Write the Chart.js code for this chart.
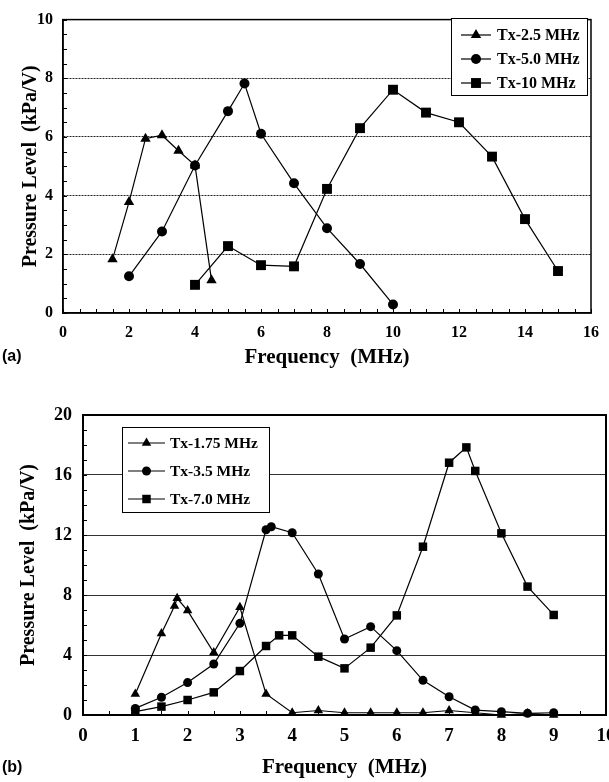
<!DOCTYPE html>
<html><head><meta charset="utf-8">
<script src="https://cdn.jsdelivr.net/npm/chart.js@4.4.0/dist/chart.umd.min.js"></script>
<style>
html,body{margin:0;padding:0;background:#fff;overflow:hidden;width:609px;height:782px;position:relative;}
#ca{position:absolute;left:0;top:0;}
#cb{position:absolute;left:0;top:385px;}
</style></head><body>
<canvas id="ca" width="609" height="380"></canvas>
<canvas id="cb" width="630" height="397"></canvas>
<script>
// ---------- Data: panel (a) ----------
const a_labels = ['Tx-2.5 MHz', 'Tx-5.0 MHz', 'Tx-10 MHz'];
const a_x25 = [1.5, 2, 2.5, 3, 3.5, 4, 4.5];
const a_y25 = [1.83, 3.78, 5.94, 6.06, 5.53, 5.03, 1.12];
const a_x50 = [2, 3, 4, 5, 5.5, 6, 7, 8, 9, 10];
const a_y50 = [1.25, 2.78, 5.03, 6.88, 7.82, 6.11, 4.42, 2.89, 1.67, 0.29];
const a_x10 = [4, 5, 6, 7, 8, 9, 10, 11, 12, 13, 14, 15];
const a_y10 = [0.96, 2.28, 1.63, 1.59, 4.23, 6.30, 7.61, 6.83, 6.50, 5.33, 3.20, 1.43];
const a_xTicks = [0, 2, 4, 6, 8, 10, 12, 14, 16];
const a_yTicks = [0, 2, 4, 6, 8, 10];

// ---------- Data: panel (b) ----------
const b_labels = ['Tx-1.75 MHz', 'Tx-3.5 MHz', 'Tx-7.0 MHz'];
const b_x175 = [1, 1.5, 1.75, 1.8, 2, 2.5, 3, 3.5, 4, 4.5, 5, 5.5, 6, 6.5, 7, 7.5, 8, 8.5, 9];
const b_y175 = [1.4, 5.44, 7.27, 7.78, 6.96, 4.16, 7.18, 1.4, 0.15, 0.3, 0.15, 0.15, 0.15, 0.15, 0.3, 0.15, 0, 0.1, 0];
const b_x35 = [1, 1.5, 2, 2.5, 3, 3.5, 3.6, 4, 4.5, 5, 5.5, 6, 6.5, 7, 7.5, 8, 8.5, 9];
const b_y35 = [0.44, 1.18, 2.16, 3.4, 6.11, 12.35, 12.55, 12.15, 9.4, 5.07, 5.89, 4.29, 2.31, 1.22, 0.33, 0.22, 0.11, 0.15];
const b_x70 = [1, 1.5, 2, 2.5, 3, 3.5, 3.75, 4, 4.5, 5, 5.5, 6, 6.5, 7, 7.33, 7.5, 8, 8.5, 9];
const b_y70 = [0.22, 0.56, 1.0, 1.51, 2.93, 4.6, 5.31, 5.31, 3.89, 3.11, 4.49, 6.64, 11.22, 16.82, 17.84, 16.27, 12.11, 8.56, 6.67];
const b_xTicks = [0, 1, 2, 3, 4, 5, 6, 7, 8, 9, 10];
const b_yTicks = [0, 4, 8, 12, 16, 20];

const SERIF = "'Liberation Serif','Times New Roman',serif";
const SANS = "'Liberation Sans',Arial,sans-serif";

function pts(xs, ys) { return xs.map((x, i) => ({ x: x, y: ys[i] })); }
function ds(label, xs, ys, style, r) {
  return {
    label: label, data: pts(xs, ys), borderColor: '#000', backgroundColor: '#000',
    borderWidth: 1.2, pointStyle: style, pointRadius: r, pointHoverRadius: r,
    pointBackgroundColor: '#000', pointBorderColor: '#000', pointBorderWidth: 0,
    tension: 0, fill: false, clip: false
  };
}

function drawMarker(ctx, style, r, x, y) {
  if (Chart.helpers && Chart.helpers.drawPoint) {
    Chart.helpers.drawPoint(ctx, { pointStyle: style, radius: r, rotation: 0, borderWidth: 0 }, x, y);
    return;
  }
  ctx.beginPath();
  if (style === 'circle') ctx.arc(x, y, r, 0, Math.PI * 2);
  else if (style === 'rect') { const s = r * Math.SQRT1_2; ctx.rect(x - s, y - s, 2 * s, 2 * s); }
  else { ctx.moveTo(x, y - r); ctx.lineTo(x + r * 0.866, y + r / 2); ctx.lineTo(x - r * 0.866, y + r / 2); ctx.closePath(); }
  ctx.fill();
}

const decor = {
  id: 'decor',
  beforeDatasetsDraw(chart, args, o) {
    const ctx = chart.ctx, ca = chart.chartArea;
    const xs = chart.scales.x, ys = chart.scales.y;
    ctx.save();
    ctx.strokeStyle = '#000';
    ctx.lineWidth = 1;
    ctx.beginPath();
    for (let v = xs.min; v <= xs.max + 1e-9; v += o.xMinor) {
      const p = Math.round(xs.getPixelForValue(v)) + 0.5;
      ctx.moveTo(p, ca.bottom); ctx.lineTo(p, ca.bottom - o.tickLen);
    }
    for (let v = ys.min; v <= ys.max + 1e-9; v += o.yMinor) {
      const p = Math.round(ys.getPixelForValue(v)) + 0.5;
      ctx.moveTo(ca.left, p); ctx.lineTo(ca.left + o.tickLen, p);
    }
    ctx.stroke();
    ctx.lineWidth = o.frameWidth;
    ctx.strokeRect(ca.left, ca.top, ca.right - ca.left, ca.bottom - ca.top);
    ctx.restore();
  },
  afterDatasetsDraw(chart, args, o) {
    const ctx = chart.ctx;
    const L = o.legend;
    ctx.save();
    ctx.fillStyle = '#fff';
    ctx.fillRect(L.x, L.y, L.w, L.h);
    ctx.strokeStyle = '#000';
    ctx.lineWidth = 1;
    ctx.strokeRect(L.x + 0.5, L.y + 0.5, L.w, L.h);
    ctx.font = 'bold ' + L.fontSize + 'px ' + SERIF;
    ctx.textBaseline = 'middle';
    ctx.textAlign = 'left';
    chart.data.datasets.forEach((d, i) => {
      const y = L.y + L.rows[i];
      ctx.strokeStyle = '#000';
      ctx.lineWidth = 1.2;
      ctx.beginPath();
      ctx.moveTo(L.x + L.l1, y); ctx.lineTo(L.x + L.l2, y); ctx.stroke();
      ctx.fillStyle = '#000';
      drawMarker(ctx, d.pointStyle, d.pointRadius, L.x + (L.l1 + L.l2) / 2, y);
      ctx.fillStyle = '#000';
      ctx.fillText(d.label, L.x + L.tx, y + 1);
    });
    // panel label
    ctx.font = 'bold 16px ' + SANS;
    ctx.fillStyle = '#000';
    ctx.textBaseline = 'middle';
    ctx.fillText(o.panel, 2, o.panelY);
    ctx.restore();
  }
};

function tickFont(size) { return { family: SERIF, size: size, weight: 'bold' }; }

// ---------- Chart (a) ----------
new Chart(document.getElementById('ca'), {
  type: 'line',
  data: {
    datasets: [
      ds(a_labels[0], a_x25, a_y25, 'triangle', 6),
      ds(a_labels[1], a_x50, a_y50, 'circle', 5),
      ds(a_labels[2], a_x10, a_y10, 'rect', 7)
    ]
  },
  plugins: [decor],
  options: {
    responsive: false, animation: false, devicePixelRatio: 1,
    layout: { padding: { top: 12, right: 12, left: 0, bottom: 0 } },
    plugins: {
      legend: { display: false }, tooltip: { enabled: false },
      decor: {
        xMinor: 0.5, yMinor: 0.5, tickLen: 4, frameWidth: 1.5,
        panel: '(a)', panelY: 357,
        legend: { x: 451, y: 18, w: 136, h: 77, rows: [17, 41, 65], l1: 10, l2: 40, tx: 46, fontSize: 16 }
      }
    },
    scales: {
      x: {
        type: 'linear', min: a_xTicks[0], max: a_xTicks[a_xTicks.length - 1],
        afterBuildTicks(s) { s.ticks = a_xTicks.map(v => ({ value: v })); },
        ticks: { padding: 10, font: tickFont(16), color: '#000' },
        grid: { display: false, drawTicks: false },
        border: { display: true, color: '#000', width: 1.5 },
        title: { display: true, text: 'Frequency  (MHz)', color: '#000', font: tickFont(21), padding: { top: 0, bottom: 10 } },
        afterFit(s) { s.height = 67; }
      },
      y: {
        type: 'linear', min: a_yTicks[0], max: a_yTicks[a_yTicks.length - 1],
        afterBuildTicks(s) { s.ticks = a_yTicks.map(v => ({ value: v })); },
        ticks: { padding: 10, font: tickFont(16), color: '#000' },
        grid: {
          drawTicks: false, lineWidth: 1,
          color: (c) => (c.tick && c.tick.value > 0 && c.tick.value < 10) ? '#222' : 'rgba(0,0,0,0)'
        },
        border: { display: true, color: '#000', width: 1.5, dash: [2, 1] },
        title: { display: true, text: 'Pressure Level  (kPa/V)', color: '#000', font: tickFont(20), padding: { top: 19, bottom: 0 } },
        afterFit(s) { s.width = 63; }
      }
    }
  }
});

// ---------- Chart (b) ----------
new Chart(document.getElementById('cb'), {
  type: 'line',
  data: {
    datasets: [
      ds(b_labels[0], b_x175, b_y175, 'triangle', 5.5),
      ds(b_labels[1], b_x35, b_y35, 'circle', 4.5),
      ds(b_labels[2], b_x70, b_y70, 'rect', 6)
    ]
  },
  plugins: [decor],
  options: {
    responsive: false, animation: false, devicePixelRatio: 1,
    layout: { padding: { top: 30, right: 24, left: 0, bottom: 0 } },
    plugins: {
      legend: { display: false }, tooltip: { enabled: false },
      decor: {
        xMinor: 0.5, yMinor: 1, tickLen: 4, frameWidth: 2,
        panel: '(b)', panelY: 383,
        legend: { x: 122, y: 42, w: 147, h: 85, rows: [16, 44, 72], l1: 6, l2: 43, tx: 48, fontSize: 15.5 }
      }
    },
    scales: {
      x: {
        type: 'linear', min: b_xTicks[0], max: b_xTicks[b_xTicks.length - 1],
        afterBuildTicks(s) { s.ticks = b_xTicks.map(v => ({ value: v })); },
        ticks: { padding: 10, font: tickFont(19), color: '#000' },
        grid: { display: false, drawTicks: false },
        border: { display: true, color: '#000', width: 2 },
        title: { display: true, text: 'Frequency  (MHz)', color: '#000', font: tickFont(21), padding: { top: 0, bottom: 2 } },
        afterFit(s) { s.height = 67; }
      },
      y: {
        type: 'linear', min: b_yTicks[0], max: b_yTicks[b_yTicks.length - 1],
        afterBuildTicks(s) { s.ticks = b_yTicks.map(v => ({ value: v })); },
        ticks: { padding: 11, font: tickFont(18), color: '#000' },
        grid: {
          drawTicks: false, lineWidth: 1,
          color: (c) => (c.tick && c.tick.value > 0 && c.tick.value < 20) ? '#333' : 'rgba(0,0,0,0)'
        },
        border: { display: true, color: '#000', width: 2 },
        title: { display: true, text: 'Pressure Level  (kPa/V)', color: '#000', font: tickFont(20), padding: { top: 17, bottom: 0 } },
        afterFit(s) { s.width = 83; }
      }
    }
  }
});
</script>
</body></html>
